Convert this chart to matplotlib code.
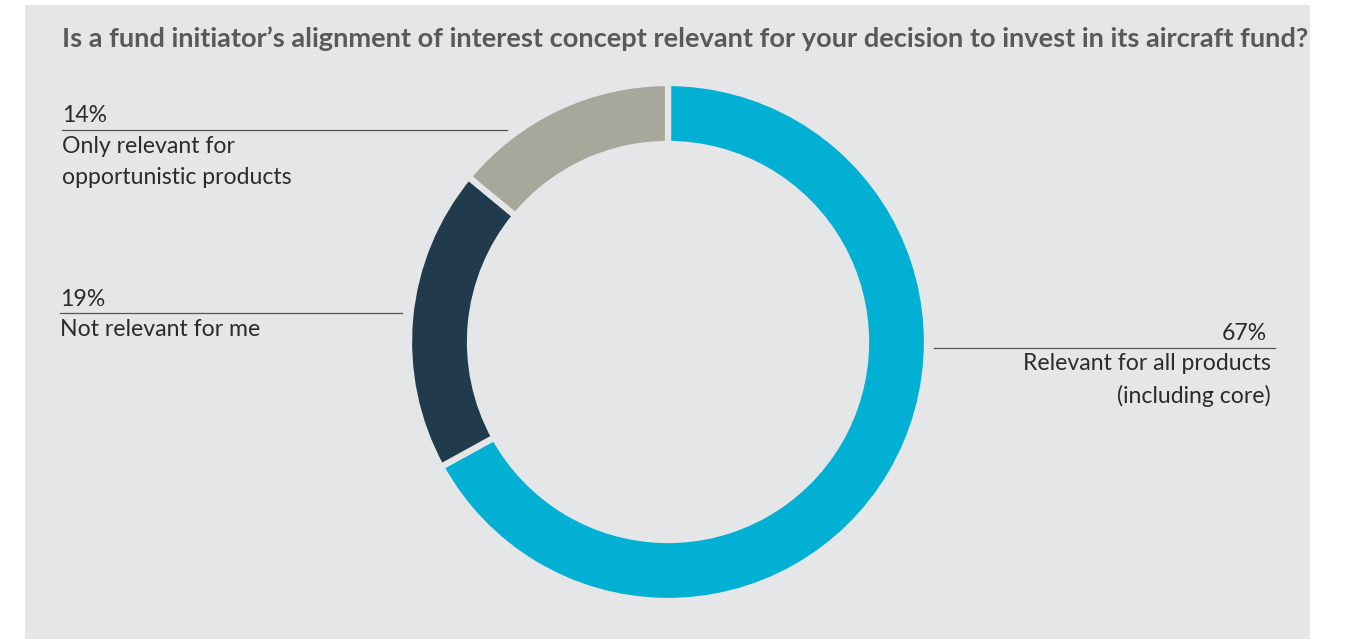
import matplotlib.pyplot as plt

# survey answers
labels = ["Relevant for all products\n(including core)", "Not relevant for me",
          "Only relevant for\nopportunistic products"]
shares = [67, 19, 14]
colors = ["#02b0d4", "#213b4d", "#a7a79b"]

title = "Is a fund initiator\u2019s alignment of interest concept relevant for your decision to invest in its aircraft fund?"

bg = "#e5e6e8"
text_col = "#2b2b2b"
plt.rcParams['font.family'] = ['Lato', 'DejaVu Sans']

W, H = 1345, 639
fig = plt.figure(figsize=(W / 100, H / 100), dpi=100)
fig.patch.set_facecolor("white")
ax = fig.add_axes([0, 0, 1, 1])

# grey panel behind everything
ax.add_patch(plt.Rectangle((25, 5), 1285, 640, facecolor=bg, edgecolor="none", zorder=0))

cx, cy, r_out, ring = 668, 342, 259, 61
# y axis is inverted below, so counter-clockwise in data runs clockwise on screen
ax.pie(shares, colors=colors, startangle=-90, counterclock=True,
       center=(cx, cy), radius=r_out,
       wedgeprops=dict(width=ring, edgecolor=bg, linewidth=4.5))

ax.set_xlim(0, W)
ax.set_ylim(H, 0)
ax.set_aspect("equal")
ax.axis("off")

ax.text(62, 39, title, fontsize=19.6, fontweight="bold", color="#58595b",
        va="center", ha="left")

fs = 16.6
ls = 1.55
# left labels: 14% and 19%
ax.text(62, 116, f"{shares[2]}%", fontsize=fs, color=text_col, va="center")
ax.plot([62, 507], [130, 130], color="#555555", lw=0.9)
ax.text(62, 162, labels[2], fontsize=fs, color=text_col, va="center", linespacing=ls)

ax.text(60, 299, f"{shares[1]}%", fontsize=fs, color=text_col, va="center")
ax.plot([60, 402], [313, 313], color="#555555", lw=0.9)
ax.text(60, 330, labels[1], fontsize=fs, color=text_col, va="center")

# right label: 67%
ax.text(1267, 333, f"{shares[0]}%", fontsize=fs, color=text_col, va="center", ha="right")
ax.plot([934, 1275], [348, 348], color="#555555", lw=0.9)
ax.text(1271, 380, labels[0], fontsize=fs, color=text_col, va="center", ha="right",
        linespacing=ls, multialignment="right")

fig.savefig("out.png", dpi=100, facecolor=fig.get_facecolor())
